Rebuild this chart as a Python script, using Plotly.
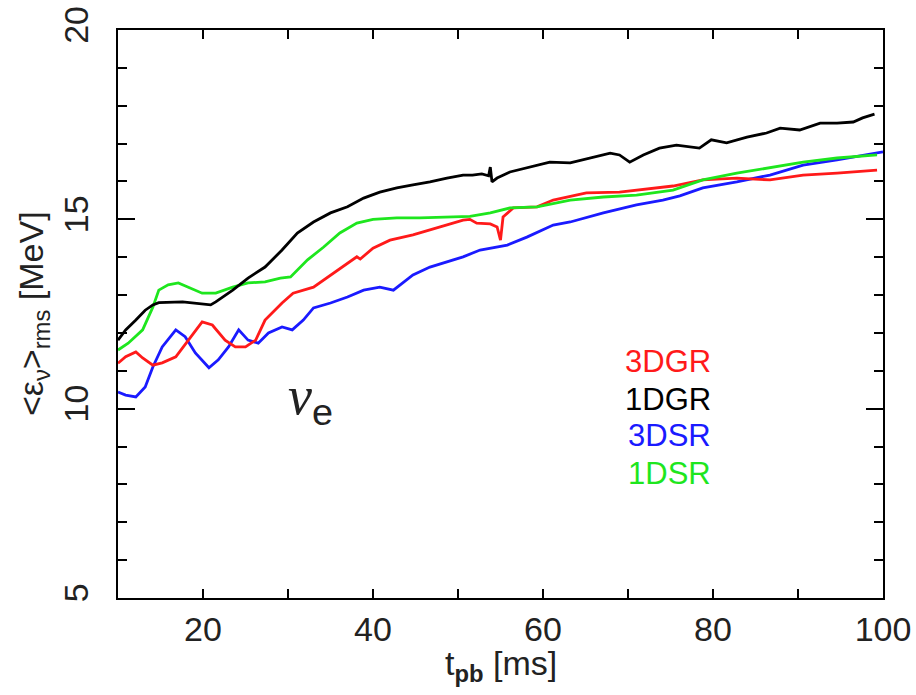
import plotly.graph_objects as go

# 1DGR (black)
t_1dgr = [10, 10.9, 12.1, 13.2, 14.1, 14.8, 17.6, 20.9, 21.5, 23.5, 25.3, 27.3, 29.3, 31.1, 33, 35, 37, 38.9,
          40.8, 42.8, 44.7, 46.7, 48.7, 50.6, 51.7, 52.8, 53.6, 53.8, 54.0, 54.6, 56.1, 58.5, 60.8, 63.2, 65.5,
          67.9, 69, 70.2, 71.8, 73.7, 75.7, 77.3, 78.4, 79.8, 81.6, 84, 86.3, 87.9, 90.2, 92.6, 94.6, 96.5, 97.6, 99]
e_1dgr = [11.81, 12.08, 12.34, 12.6, 12.74, 12.8, 12.82, 12.74, 12.82, 13.13, 13.45, 13.74, 14.19, 14.64, 14.93,
          15.17, 15.33, 15.56, 15.72, 15.83, 15.91, 15.99, 16.09, 16.17, 16.17, 16.2, 16.15, 16.38, 15.99, 16.09,
          16.25, 16.38, 16.51, 16.49, 16.62, 16.75, 16.7, 16.51, 16.70, 16.88, 16.96, 16.91, 16.88, 17.1, 17.02,
          17.17, 17.28, 17.41, 17.36, 17.54, 17.54, 17.57, 17.68, 17.78]

# 1DSR (green)
t_1dsr = [10, 11.2, 12.9, 14.1, 14.8, 15.9, 17.1, 18.3, 19.9, 21.5, 23.5, 25.3, 27.3, 29.1, 30.3, 32.3, 34.2,
          36.1, 38.1, 40, 42.8, 45.5, 48.7, 51.4, 53.8, 56.1, 59.3, 63.2, 67.1, 71, 75.3, 78.8, 82.8, 86.7, 90.6,
          94.6, 99.3]
e_1dsr = [11.55, 11.73, 12.08, 12.68, 13.13, 13.27, 13.32, 13.21, 13.05, 13.05, 13.21, 13.32, 13.35, 13.45,
          13.48, 13.93, 14.27, 14.64, 14.9, 15.0, 15.04, 15.04, 15.06, 15.08, 15.17, 15.3, 15.33, 15.51, 15.59,
          15.64, 15.77, 16.04, 16.22, 16.36, 16.51, 16.62, 16.7]

# 3DGR (red)
t_3dgr = [10, 10.9, 12.1, 12.9, 14.1, 15.2, 16.8, 18.3, 19.9, 21.1, 22.6, 23.8, 25, 26.2, 27.3, 29.3, 30.6, 33,
          35, 37, 38.1, 38.5, 40, 42, 44.7, 46.7, 48.7, 50.6, 51.4, 52.2, 53.8, 54.6, 55.0, 55.3, 56.5, 59.3,
          61.2, 65.1, 69, 72.9, 75.3, 78.8, 82.8, 86.7, 90.6, 94.6, 99.3]
e_3dgr = [11.2, 11.37, 11.5, 11.34, 11.15, 11.21, 11.37, 11.81, 12.29, 12.21, 11.81, 11.63, 11.63, 11.81,
          12.34, 12.79, 13.05, 13.21, 13.53, 13.85, 14.01, 13.95, 14.24, 14.45, 14.59, 14.72, 14.85, 14.98, 15.0,
          14.9, 14.88, 14.8, 14.45, 15.06, 15.3, 15.33, 15.51, 15.7, 15.72, 15.83, 15.88, 16.04, 16.09, 16.04,
          16.17, 16.22, 16.3]

# 3DSR (blue)
t_3dsr = [10, 10.9, 12.1, 13.2, 14.1, 15.2, 16.8, 17.9, 19.1, 20.7, 21.8, 23, 24.2, 25.3, 26.5, 27.7, 29.3,
          30.5, 31.8, 33, 35, 37, 38.9, 40.8, 42.4, 44.7, 46.7, 48.7, 50.6, 52.6, 55.8, 58.1, 61.2, 63.2, 67.1,
          71, 74.1, 76.1, 78.8, 82.8, 86.7, 90.6, 94.6, 100]
e_3dsr = [10.44, 10.36, 10.31, 10.57, 11.1, 11.63, 12.08, 11.9, 11.47, 11.08, 11.29, 11.63, 12.08, 11.81,
          11.73, 12.0, 12.16, 12.08, 12.34, 12.66, 12.79, 12.95, 13.13, 13.21, 13.13, 13.53, 13.74, 13.87, 14.01,
          14.19, 14.32, 14.53, 14.85, 14.93, 15.17, 15.38, 15.51, 15.62, 15.83, 15.99, 16.17, 16.43, 16.57, 16.78]

labels = ["3DGR", "1DGR", "3DSR", "1DSR"]
label_y = [11.25, 10.25, 9.28, 8.28]
colors = {"3DGR": "#ff1a1a", "1DGR": "#000000", "3DSR": "#1a1aff", "1DSR": "#1ee61e"}

FONT = "Liberation Sans"
TXT = "#222222"

fig = go.Figure()
for name, t, e in [("3DSR", t_3dsr, e_3dsr), ("3DGR", t_3dgr, e_3dgr),
                   ("1DSR", t_1dsr, e_1dsr), ("1DGR", t_1dgr, e_1dgr)]:
    fig.add_trace(go.Scatter(x=t, y=e, mode="lines", name=name,
                             line=dict(color=colors[name], width=2.8)))

for lab, yy in zip(labels, label_y):
    fig.add_annotation(x=80, y=yy, text=lab, showarrow=False, xanchor="right", yanchor="middle",
                       font=dict(family=FONT, size=31, color=colors[lab]))

fig.add_annotation(x=29.8, y=10.25, xanchor="left", yanchor="middle", showarrow=False,
                   text="<span style='font-family:Liberation Serif'><i>ν</i></span><sub>e</sub>",
                   font=dict(family=FONT, size=54, color=TXT))

# axis titles
fig.add_annotation(xref="paper", yref="paper", x=0.5, y=-0.118, xanchor="center", yanchor="middle",
                   showarrow=False, text="t<sub><b>pb</b></sub> [ms]",
                   font=dict(family=FONT, size=34, color=TXT))
fig.add_annotation(xref="paper", yref="paper", x=-0.111, y=0.5, xanchor="center", yanchor="middle",
                   showarrow=False, textangle=-90, text="<ε<sub>ν</sub>><sub>rms</sub> [MeV]",
                   font=dict(family=FONT, size=34, color=TXT))

axis_common = dict(showline=True, linecolor="black", linewidth=2, mirror="ticks", showgrid=False,
                   zeroline=False, ticks="inside", tickcolor="black", tickwidth=2, automargin=False,
                   tickfont=dict(family=FONT, size=34, color=TXT))

fig.update_xaxes(range=[10, 100], tick0=0, dtick=20, ticklen=9,
                 minor=dict(dtick=10, tick0=0, ticklen=9, ticks="inside", tickcolor="black", tickwidth=2),
                 **axis_common)
fig.update_yaxes(range=[5, 20], tick0=0, dtick=5, ticklen=17, tickangle=-90,
                 minor=dict(dtick=1, tick0=0, ticklen=9, ticks="inside", tickcolor="black", tickwidth=2),
                 ticklabelstandoff=14,
                 **axis_common)

fig.update_layout(width=916, height=695, showlegend=False,
                  plot_bgcolor="white", paper_bgcolor="white",
                  margin=dict(l=118, r=33, t=30, b=97))

fig.write_html("out.html", config={"displayModeBar": False},
               post_script="document.body.style.margin='0';document.body.style.padding='0';")
